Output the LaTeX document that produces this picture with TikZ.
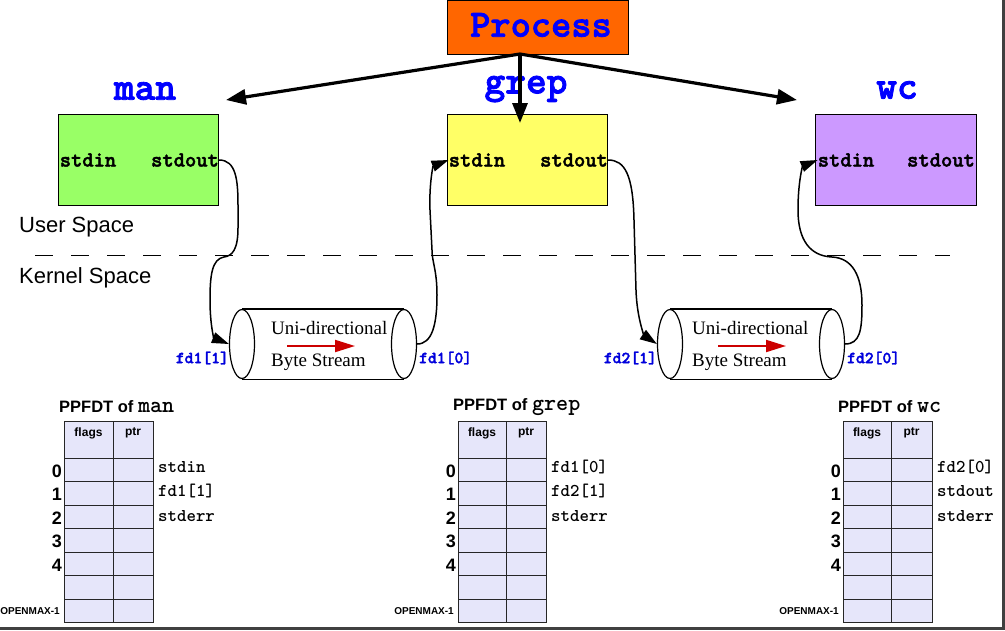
\documentclass[tikz,border=0pt]{standalone}
\usepackage{fontspec}
\setmainfont{Liberation Serif}
\setsansfont{Liberation Sans}
\newfontfamily\monom{lmmonolt10-bold.otf}
\newfontfamily\monob{lmmonolt10-bold.otf}[FakeBold=2]
\usetikzlibrary{arrows.meta,shapes.geometric}
\definecolor{procorange}{RGB}{255,102,0}
\definecolor{mangreen}{RGB}{153,255,102}
\definecolor{grepyellow}{RGB}{255,255,102}
\definecolor{wcpurple}{RGB}{204,153,255}
\definecolor{cellfill}{RGB}{230,230,250}
\definecolor{lblue}{RGB}{0,0,255}
\definecolor{fdblue}{RGB}{0,0,220}
\definecolor{flowred}{RGB}{204,0,0}
\newcommand\fs[1]{\fontsize{#1}{#1}\selectfont}
\newcommand\tm[1]{{\fs{23}\monom #1}}
\tikzset{
  procbox/.style={draw=black, line width=1pt, fill=procorange, minimum width=181, minimum height=54, inner sep=0},
  proclabel/.style={text=lblue, font=\fs{38.5}\monob, inner sep=0},
  cmdbox/.style={draw=black, line width=1pt, minimum width=160, minimum height=91, inner sep=0},
  cmdlabel/.style={text=lblue, font=\fs{39.5}\monob, inner sep=0},
  iolabel/.style={font=\fs{21.5}\monob, inner sep=0},
  spacelabel/.style={font=\fs{22}\sffamily, anchor=west, inner sep=0},
  fdlabel/.style={text=fdblue, font=\fs{16.8}\monob, inner sep=0},
  pipeend/.style={draw, ellipse, line width=1.2pt, minimum width=25, minimum height=69, inner sep=0},
  pipetext/.style={font=\fs{19}\rmfamily, anchor=west, inner sep=0},
  flow/.style={draw=flowred, line width=2pt, -{Triangle[length=20pt,width=12pt]}},
  spawn/.style={line width=3.2pt, -{Triangle[length=20pt,width=15pt]}},
  link/.style={line width=1.5pt, -{Triangle[length=17pt,width=11pt]}},
  cellbox/.style={draw=black!85, line width=1pt, fill=cellfill},
  hdr/.style={font=\fs{12}\sffamily\bfseries, inner sep=0},
  rownum/.style={font=\fs{18}\sffamily\bfseries, anchor=east, inner sep=0},
  openmax/.style={font=\fs{10}\sffamily\bfseries, anchor=east, inner sep=0},
  fdentry/.style={font=\fs{18}\monom, anchor=west, inner sep=0},
  tabtitle/.style={font=\fs{16.5}\sffamily\bfseries, anchor=west, inner sep=0},
}
% #1 x0, #2 x1, #3 x2, #4 name prefix, #5 title, #6 #7 #8 entries
\newcommand\fdtable[8]{%
  \node[tabtitle] (#4title) at (#1-5,407) {#5};
  \draw[cellbox] (#1,421) rectangle (#2,458);
  \draw[cellbox] (#2,421) rectangle (#3,458);
  \node[hdr] (#4flags) at ({(#1+#2)/2},433) {flags};
  \node[hdr] (#4ptr) at ({(#2+#3)/2},433) {ptr};
  \foreach \i in {0,...,6}{
    \draw[cellbox] (#1,{458+23.57*\i}) rectangle (#2,{481.57+23.57*\i});
    \draw[cellbox] (#2,{458+23.57*\i}) rectangle (#3,{481.57+23.57*\i});
  }
  \foreach \i in {0,...,4}{
    \node[rownum] (#4row\i) at (#1-2,{471+23.57*\i}) {\i};
  }
  \node[openmax] (#4max) at (#1-4,611) {OPENMAX-1};
  \node[fdentry] (#4e0) at (#3+5,467) {#6};
  \node[fdentry] (#4e1) at (#3+5,491) {#7};
  \node[fdentry] (#4e2) at (#3+5,516) {#8};
}
\begin{document}
\begin{tikzpicture}[x=1pt,y=-1pt]
\useasboundingbox (0,0) rectangle (1005,630);
\fill[white] (0,0) rectangle (1005,630);

% process and commands
\node[procbox] (proc) at (537.5,27) {};
\node[proclabel] (proctext) at (541,25) {Process};
\node[cmdbox, fill=mangreen] (manbox) at (138,159.5) {};
\node[cmdbox, fill=grepyellow] (grepbox) at (527,159.5) {};
\node[cmdbox, fill=wcpurple, minimum width=161] (wcbox) at (895.5,159.5) {};
\node[cmdlabel] (manlbl) at (145,91) {man};
\node[cmdlabel] (greplbl) at (526,89) {grep};
\node[cmdlabel] (wclbl) at (897,90) {wc};

\node[iolabel] (manin) at (88,160) {stdin};
\node[iolabel] (manout) at (185,160) {stdout};
\node[iolabel] (grepin) at (477,160) {stdin};
\node[iolabel] (grepout) at (574,160) {stdout};
\node[iolabel] (wcin) at (846,160) {stdin};
\node[iolabel] (wcout) at (941,160) {stdout};

\coordinate (src) at (520,54);
\coordinate (mantip) at (226,100);
\coordinate (greptip) at (520,123);
\coordinate (wctip) at (797,100);
\draw[spawn] (src) -- (mantip);
\draw[spawn] (src) -- (greptip);
\draw[spawn] (src) -- (wctip);

% spaces
\node[spacelabel] (user) at (19,227) {User Space};
\node[spacelabel] (kernel) at (19,278) {Kernel Space};
\coordinate (dashA) at (35,255);
\coordinate (dashB) at (950,255);
\draw[dash pattern=on 18pt off 18pt, line width=1pt] (dashA) -- (dashB);

% pipes
\node[pipeend] (p1l) at (242,344) {};
\node[pipeend] (p1r) at (404,344) {};
\draw[line width=1.2pt] (p1l.north) -- (p1r.north) (p1l.south) -- (p1r.south);
\node[pipetext] (p1t1) at (271,328) {Uni-directional};
\node[pipetext] (p1t2) at (271,362) {Byte Stream};
\coordinate (f1a) at (287,346);
\coordinate (f1b) at (355,346);
\draw[flow] (f1a) -- (f1b);

\node[pipeend] (p2l) at (670,344) {};
\node[pipeend] (p2r) at (832,344) {};
\draw[line width=1.2pt] (p2l.north) -- (p2r.north) (p2l.south) -- (p2r.south);
\node[pipetext] (p2t1) at (692,328) {Uni-directional};
\node[pipetext] (p2t2) at (692,362) {Byte Stream};
\coordinate (f2a) at (718,346);
\coordinate (f2b) at (786,346);
\draw[flow] (f2a) -- (f2b);

\node[fdlabel, anchor=east] (fd11) at (229,358) {fd1[1]};
\node[fdlabel, anchor=west] (fd10) at (419,358) {fd1[0]};
\node[fdlabel, anchor=east] (fd21) at (657,358) {fd2[1]};
\node[fdlabel, anchor=west] (fd20) at (847,358) {fd2[0]};

% connectors
\draw[link] (manout.east) .. controls (236,160) and (238,180) .. (238,205)
  -- (238,228) .. controls (238,250) and (232,256) .. (224,257)
  .. controls (212,259) and (210,275) .. (210,300)
  .. controls (210,325) and (214,338) .. (p1l.west);
\draw[link] (p1r.east) .. controls (432,344) and (437,325) .. (437,295)
  .. controls (437,270) and (432,262) .. (432,250)
  -- (430,210) .. controls (429,185) and (433,166) .. (grepin.west);
\draw[link] (grepout.east) .. controls (625,160) and (633,175) .. (634,220)
  -- (636,290) .. controls (637,320) and (645,336) .. (p2l.west);
\draw[link] (p2r.east) .. controls (860,344) and (862,330) .. (862,305)
  .. controls (862,275) and (852,258) .. (832,257)
  .. controls (810,256) and (798,240) .. (798,210)
  .. controls (798,180) and (803,166) .. (wcin.west);

% tables
\fdtable{64}{113}{153}{man}{PPFDT of \tm{man}}{stdin}{fd1[1]}{stderr}
\fdtable{458}{506}{546}{grep}{PPFDT of \tm{grep}}{fd1[0]}{fd2[1]}{stderr}
\fdtable{843}{891}{932}{wc}{PPFDT of \tm{wc}}{fd2[0]}{stdout}{stderr}

% frame edges
\coordinate (edgeTop) at (1003.5,0);
\coordinate (edgeCorner) at (1003.5,628.5);
\coordinate (edgeLeft) at (0,628.5);
\draw[line width=2.5pt, black!75] (edgeTop) -- (edgeCorner) -- (edgeLeft);
\end{tikzpicture}
\end{document}
